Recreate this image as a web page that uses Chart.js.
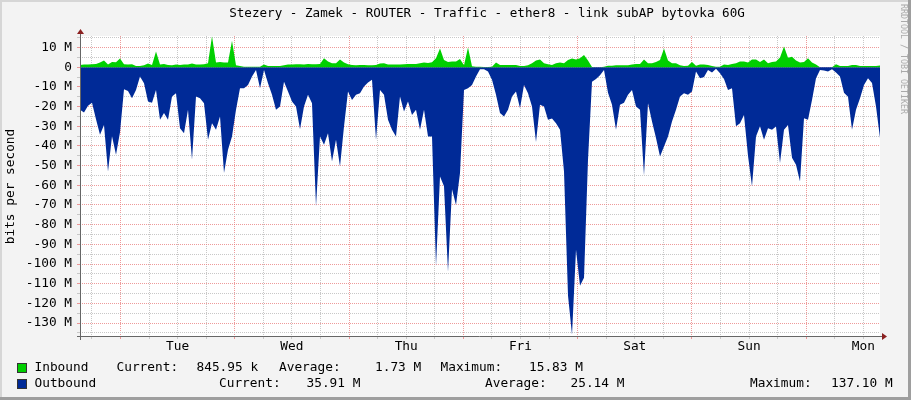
<!DOCTYPE html>
<html>
<head>
<meta charset="utf-8">
<script src="https://cdn.jsdelivr.net/npm/chart.js@4.4.0/dist/chart.umd.min.js"></script>
<style>
  html, body { margin: 0; padding: 0; background: #f3f3f3; }
  #wrap { width: 911px; height: 400px; }
</style>
</head>
<body>
<div id="wrap"><canvas id="myChart" width="911" height="400"></canvas></div>
<script>
const TITLE = 'Stezery - Zamek - ROUTER - Traffic - ether8 - link subAP bytovka 60G';
const Y_TITLE = 'bits per second';
const DAY_LABELS = ['Tue', 'Wed', 'Thu', 'Fri', 'Sat', 'Sun', 'Mon'];
const HOURS_SHOWN = 168;
const STEP_HOURS = 0.84;      // one sample every 50.4 minutes
const FIRST_MIDNIGHT = 8.5;   // hours from the left edge to Tue 00:00

// Mbit/s
const inbound = [
    1.2, 1.4, 1.4, 1.5, 1.7, 2.4, 3.4, 1.4, 2.7, 2.5,
    4.5, 1.5, 1.4, 1.5, 0.7, 0.7, 1, 1.9, 1.2, 8,
    1.4, 1.7, 1.2, 1, 1.4, 1.2, 1.4, 1.4, 1.9, 1.4,
    1.4, 1.5, 2, 15.8, 2.4, 2.7, 2.4, 2.4, 13.5, 1,
    0.7, 0.3, 0.3, 0.3, 0.3, 0.3, 1.4, 0.7, 0.7, 0.7,
    0.7,
    1, 1.4, 1.4, 1.5, 1.5, 1.4, 1.7, 1.5, 1.5, 1.7,
    4.6, 2.9, 2, 2, 4, 2.4, 1.5, 1.2, 1, 1.2,
    1.2, 1, 1, 1.2, 1.9, 2, 1.4, 1.4, 1.4, 1.4,
    1.5, 1.7, 1.7, 1.7, 2, 2.4, 2.2, 2.5, 4.6, 9.6,
    3.7, 2.7, 3, 2.9, 4.2, 1, 10.1, 0.5, 0.3, 0.3,
    0.2, 0.2, 0.3, 2.4, 1.2, 1.2, 1.2, 1.2, 1.2, 0.7,
    0.7, 1, 2, 3.4, 4, 2, 1.5, 1.2, 2, 2.4,
    2, 3.7, 4.4, 4, 4.6, 6.3, 3.4, 0.2, 0, 0,
    0.3, 0.8, 0.8, 1, 1, 1, 1, 1.4, 1.7, 1.7,
    4, 2, 2, 2.7, 3.7, 9.6, 3.4, 2, 2, 1,
    0.7, 0.8, 2.7, 0.8, 1.4, 1.4, 1.2, 0.7, 0.3, 0.3,
    1.4, 1.2, 1.7, 2, 3, 3, 2.4, 4, 4, 2.7,
    4, 2, 2.7, 2.9, 5, 10.5, 4.9, 5.4, 3.4, 2.4,
    2.7, 4.6, 2.4, 1.4, 0, 0, 0, 0, 1.5, 0.7,
    0.7, 0.7, 1.2, 1.2, 0.7, 0.7, 0.7, 0.7, 0.7, 0.85
];

const outbound = [
    -21.6, -23, -19.6, -18, -26.4, -34.3, -29.3, -53, -35, -44.5,
    -33, -11.2, -12, -15.7, -11.5, -4.7, -8.1, -17.4, -18, -11.5,
    -26.7, -23.3, -26.7, -14.9, -13.2, -31, -33.5, -21.6, -47, -14.9,
    -15.7, -18.3, -36.9, -28.4, -31.8, -25, -53.8, -41.9, -35.2, -21.6,
    -10.6, -10.6, -9, -4.7, -1.4, -10.6, -1.4, -8.1, -14, -21.6,
    -20,
    -7.3, -12.3, -17.4, -20, -31.5, -20, -14, -18.3, -70.7, -35.2,
    -39.4, -33.5, -47.9, -36.9, -50.4, -30.1, -12.3, -16.6, -14, -13.2,
    -9.8, -7.8, -6.4, -37, -11.5, -14, -26.7, -31.8, -35.2, -14.9,
    -22.5, -17.4, -24.2, -21.6, -31.8, -21.6, -35.2, -35.2, -101, -55.5,
    -60.5, -104, -62, -70, -53.8, -11.5, -10.6, -9, -4.7, -1,
    -1, -2.2, -6.4, -14, -23.3, -25, -21.6, -14.9, -12.3, -20.8,
    -9, -13.2, -20, -38, -19, -20, -26.7, -26, -28.4, -31.8,
    -53, -116, -136, -92.7, -111, -107, -47, -7.3, -6, -4,
    -1.4, -13, -19, -31.8, -19, -18, -14, -11.5, -20, -21.6,
    -55, -18.3, -27.6, -36, -45.3, -40.3, -35.2, -27.6, -21.6, -14.9,
    -13.2, -14, -12.3, -2.2, -5.6, -5, -1.4, -2.7, -0.8, -3,
    -6, -11.5, -10.6, -30, -28.4, -24.2, -45, -60.5, -35.2, -30,
    -36.9, -31, -31.8, -30.1, -48.7, -31.8, -29.3, -46, -49.5, -58,
    -25.9, -26.7, -16.6, -5.6, -1.4, -1.7, -2.2, -1, -2.7, -4.7,
    -13, -15, -31.8, -21.6, -15.7, -9, -5.6, -8, -20, -35.9
];

const Y_TICKS = [15, 10, 5, 0, -5, -10, -15, -20, -25, -30, -35, -40, -45, -50, -55, -60, -65,
    -70, -75, -80, -85, -90, -95, -100, -105, -110, -115, -120, -125, -130, -135];

const LEGEND_IN = ['Inbound', 'Current:', '845.95 k', 'Average:', '1.73 M', 'Maximum:', '15.83 M'];
const LEGEND_OUT = ['Outbound', 'Current:', '35.91 M', 'Average:', '25.14 M', 'Maximum:', '137.10 M'];

const COLOR_IN = '#00CF00';
const COLOR_OUT = '#002A97';
const FONT_FAMILY = 'DejaVu Sans Mono';
const FONT = '12.8px "DejaVu Sans Mono"';
const RED_GRID = 'rgba(232, 120, 120, 0.75)';
const GRAY_GRID = '#c8c8c8';

function toPoints(values) {
    return values.map((v, i) => ({ x: i * STEP_HOURS, y: v }));
}

function sixHourTicks() {
    const ticks = [];
    for (let t = FIRST_MIDNIGHT - 6; t < HOURS_SHOWN; t += 6) ticks.push({ value: t });
    return ticks;
}

function isMidnight(v) {
    return (v - FIRST_MIDNIGHT) % 24 === 0;
}

function dayLabel(v) {
    const k = (v - FIRST_MIDNIGHT - 12) / 24;
    return Number.isInteger(k) && DAY_LABELS[k] ? DAY_LABELS[k] : '';
}

function drawTriangle(ctx, pts) {
    ctx.beginPath();
    ctx.moveTo(pts[0][0], pts[0][1]);
    ctx.lineTo(pts[1][0], pts[1][1]);
    ctx.lineTo(pts[2][0], pts[2][1]);
    ctx.closePath();
    ctx.fill();
}

const rrdFrame = {
    id: 'rrdFrame',
    beforeDraw(chart) {
        const { ctx, chartArea: a } = chart;
        ctx.save();
        ctx.fillStyle = '#f3f3f3';
        ctx.fillRect(0, 0, 911, 400);
        ctx.fillStyle = '#d6d6d6';
        ctx.fillRect(0, 0, 911, 2);
        ctx.fillRect(0, 0, 2, 400);
        ctx.fillStyle = '#9e9e9e';
        ctx.fillRect(908, 0, 3, 400);
        ctx.fillRect(0, 397, 911, 3);
        ctx.fillStyle = '#ffffff';
        ctx.fillRect(a.left, a.top, a.right - a.left, a.bottom - a.top);
        ctx.restore();
    },
    afterDraw(chart) {
        const { ctx, chartArea: a } = chart;
        ctx.save();

        // axes with arrows
        ctx.strokeStyle = '#666666';
        ctx.lineWidth = 1;
        ctx.beginPath();
        ctx.moveTo(a.left + 0.5, a.bottom + 4);
        ctx.lineTo(a.left + 0.5, a.top - 3);
        ctx.moveTo(a.left - 3, a.bottom + 0.5);
        ctx.lineTo(a.right + 2, a.bottom + 0.5);
        ctx.stroke();
        ctx.fillStyle = '#8b2020';
        drawTriangle(ctx, [[a.left + 0.5, a.top - 7], [a.left - 3, a.top - 2], [a.left + 4, a.top - 2]]);
        drawTriangle(ctx, [[a.right + 7, a.bottom + 0.5], [a.right + 2, a.bottom - 3], [a.right + 2, a.bottom + 4]]);

        // title
        ctx.fillStyle = '#000000';
        ctx.font = '12.6px "DejaVu Sans Mono"';
        ctx.textBaseline = 'middle';
        ctx.textAlign = 'center';
        ctx.fillText(TITLE, 487, 14);

        // y axis title
        ctx.font = FONT;
        ctx.save();
        ctx.translate(10.5, 186.5);
        ctx.rotate(-Math.PI / 2);
        ctx.fillText(Y_TITLE, 0, 0);
        ctx.restore();

        // legend
        ctx.textAlign = 'left';
        const inX = [34.5, 116.5, 196.5, 279, 375, 440.5, 529];
        const outX = [34.5, 219, 306.5, 485, 570.5, 750, 831];
        LEGEND_IN.forEach((t, i) => ctx.fillText(t, inX[i], 368));
        LEGEND_OUT.forEach((t, i) => ctx.fillText(t, outX[i], 384));
        ctx.strokeStyle = '#333333';
        ctx.fillStyle = COLOR_IN;
        ctx.fillRect(17, 363, 9, 9);
        ctx.strokeRect(17.5, 363.5, 9, 9);
        ctx.fillStyle = COLOR_OUT;
        ctx.fillRect(17, 379, 9, 9);
        ctx.strokeRect(17.5, 379.5, 9, 9);

        // watermark
        ctx.translate(903.5, 4);
        ctx.rotate(Math.PI / 2);
        ctx.font = '8.3px "DejaVu Sans Mono"';
        ctx.fillStyle = '#aaaaaa';
        ctx.fillText('RRDTOOL / TOBI OETIKER', 0, 0);
        ctx.restore();
    }
};

function renderChart(canvasId) {
    const ctx = document.getElementById(canvasId).getContext('2d');

    new Chart(ctx, {
        type: 'line',
        data: {
            datasets: [
                {
                    label: 'Inbound',
                    data: toPoints(inbound),
                    backgroundColor: COLOR_IN,
                    borderColor: 'rgba(0,0,0,0)',
                    borderWidth: 0,
                    pointRadius: 0,
                    fill: 'origin',
                    tension: 0,
                },
                {
                    label: 'Outbound',
                    data: toPoints(outbound),
                    backgroundColor: COLOR_OUT,
                    borderColor: 'rgba(0,0,0,0)',
                    borderWidth: 0,
                    pointRadius: 0,
                    fill: 'origin',
                    tension: 0,
                },
            ],
        },
        options: {
            responsive: false,
            animation: false,
            devicePixelRatio: 1,
            layout: { padding: { top: 36, right: 31, bottom: 44, left: 0 } },
            plugins: {
                legend: { display: false },
                title: { display: false },
                tooltip: { enabled: false },
            },
            scales: {
                x: {
                    type: 'linear',
                    min: 0,
                    max: HOURS_SHOWN,
                    afterBuildTicks: scale => { scale.ticks = sixHourTicks(); },
                    afterFit: scale => { scale.height = 20; },
                    ticks: {
                        autoSkip: false,
                        maxRotation: 0,
                        padding: 0,
                        color: '#000000',
                        font: { family: FONT_FAMILY, size: 12.8 },
                        callback: value => dayLabel(value),
                    },
                    grid: {
                        color: c => isMidnight(c.tick.value) ? RED_GRID : GRAY_GRID,
                        tickLength: 3,
                    },
                    border: { display: false, dash: [1, 1] },
                },
                y: {
                    min: -136.6,
                    max: 15.9,
                    afterBuildTicks: scale => { scale.ticks = Y_TICKS.map(v => ({ value: v })); },
                    afterFit: scale => { scale.width = 80; },
                    ticks: {
                        autoSkip: false,
                        padding: 5,
                        color: '#000000',
                        font: { family: FONT_FAMILY, size: 12.8 },
                        callback: value => value % 10 !== 0 ? '' : (value === 0 ? '0' : value + ' M'),
                    },
                    grid: {
                        color: c => c.tick.value % 10 === 0 ? RED_GRID : GRAY_GRID,
                        tickLength: 3,
                    },
                    border: { display: false, dash: [1, 1] },
                },
            },
        },
        plugins: [rrdFrame],
    });
}

renderChart('myChart');
</script>
</body>
</html>
